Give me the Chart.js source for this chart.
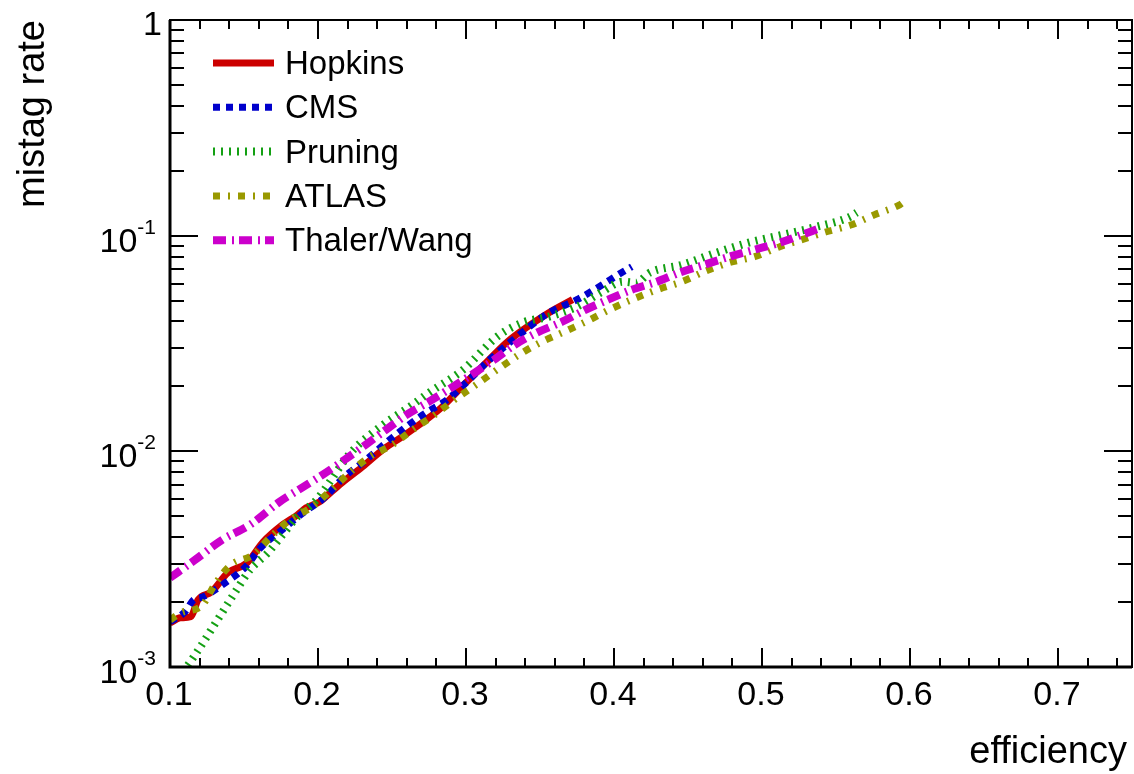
<!DOCTYPE html>
<html>
<head>
    <title>Mistag rate vs efficiency</title>
    <script src="https://cdn.jsdelivr.net/npm/chart.js"></script>
    <style>
        body { margin: 0; background: #fff; }
        #wrap { width: 1134px; height: 774px; }
    </style>
</head>
<body>
<div id="wrap"><canvas id="chart"></canvas></div>
<script>
    // values
    const hopkinsEff = [0.100, 0.107, 0.114, 0.119, 0.128, 0.139, 0.152, 0.163, 0.176, 0.186, 0.192, 0.201, 0.209, 0.217, 0.230, 0.244, 0.257, 0.273, 0.284, 0.299, 0.311, 0.328, 0.356, 0.372];
    const hopkinsMistag = [1.60e-3, 1.69e-3, 1.71e-3, 2.05e-3, 2.23e-3, 2.73e-3, 3.04e-3, 3.80e-3, 4.56e-3, 5.07e-3, 5.47e-3, 5.83e-3, 6.49e-3, 7.22e-3, 8.47e-3, 1.02e-2, 1.17e-2, 1.40e-2, 1.61e-2, 2.05e-2, 2.47e-2, 3.22e-2, 4.39e-2, 5.05e-2];

    const cmsEff = [0.100, 0.110, 0.116, 0.122, 0.137, 0.151, 0.161, 0.174, 0.190, 0.205, 0.217, 0.230, 0.251, 0.271, 0.287, 0.300, 0.316, 0.336, 0.356, 0.375, 0.390, 0.405, 0.412];
    const cmsMistag = [1.62e-3, 1.80e-3, 2.05e-3, 2.11e-3, 2.45e-3, 2.91e-3, 3.56e-3, 4.23e-3, 5.19e-3, 6.16e-3, 7.54e-3, 8.85e-3, 1.17e-2, 1.48e-2, 1.73e-2, 2.08e-2, 2.66e-2, 3.47e-2, 4.39e-2, 5.05e-2, 5.80e-2, 6.73e-2, 7.18e-2];

    const pruningEff = [0.109, 0.117, 0.132, 0.145, 0.154, 0.166, 0.176, 0.186, 0.199, 0.222, 0.244, 0.262, 0.275, 0.298, 0.321, 0.338, 0.356, 0.375, 0.392, 0.406, 0.415, 0.424, 0.446, 0.469, 0.491, 0.514, 0.537, 0.559, 0.564];
    const pruningMistag = [9.5e-4, 1.14e-3, 1.65e-3, 2.28e-3, 2.82e-3, 3.38e-3, 4.10e-3, 4.97e-3, 5.96e-3, 9.84e-3, 1.33e-2, 1.61e-2, 1.87e-2, 2.39e-2, 3.40e-2, 3.95e-2, 4.21e-2, 4.69e-2, 5.50e-2, 6.12e-2, 6.05e-2, 6.73e-2, 7.33e-2, 8.33e-2, 9.28e-2, 0.101, 0.110, 0.122, 0.128];

    const atlasEff = [0.100, 0.107, 0.122, 0.130, 0.141, 0.156, 0.168, 0.181, 0.196, 0.209, 0.222, 0.235, 0.250, 0.264, 0.279, 0.292, 0.307, 0.321, 0.336, 0.350, 0.365, 0.381, 0.397, 0.412, 0.429, 0.446, 0.461, 0.478, 0.495, 0.512, 0.527, 0.543, 0.560, 0.576, 0.593, 0.595];
    const atlasMistag = [1.65e-3, 1.78e-3, 1.94e-3, 2.40e-3, 2.97e-3, 3.31e-3, 4.01e-3, 4.81e-3, 5.53e-3, 6.62e-3, 8.03e-3, 9.44e-3, 1.07e-2, 1.26e-2, 1.48e-2, 1.73e-2, 2.04e-2, 2.39e-2, 2.81e-2, 3.19e-2, 3.55e-2, 3.99e-2, 4.54e-2, 5.05e-2, 5.61e-2, 6.12e-2, 6.81e-2, 7.50e-2, 7.99e-2, 8.89e-2, 9.58e-2, 0.104, 0.112, 0.125, 0.139, 0.142];

    const thalerEff = [0.100, 0.117, 0.135, 0.154, 0.174, 0.189, 0.203, 0.218, 0.232, 0.246, 0.260, 0.275, 0.290, 0.304, 0.319, 0.333, 0.348, 0.365, 0.381, 0.396, 0.412, 0.429, 0.444, 0.461, 0.478, 0.495, 0.512, 0.527, 0.537];
    const thalerMistag = [2.59e-3, 3.14e-3, 3.88e-3, 4.56e-3, 5.83e-3, 6.77e-3, 7.78e-3, 9.14e-3, 1.07e-2, 1.26e-2, 1.48e-2, 1.70e-2, 1.97e-2, 2.27e-2, 2.66e-2, 3.12e-2, 3.55e-2, 3.99e-2, 4.54e-2, 5.05e-2, 5.61e-2, 6.12e-2, 6.73e-2, 7.33e-2, 7.99e-2, 8.61e-2, 9.28e-2, 0.101, 0.107];

    const xTicks = [0.1, 0.2, 0.3, 0.4, 0.5, 0.6, 0.7];
    const xTickLabels = ['0.1', '0.2', '0.3', '0.4', '0.5', '0.6', '0.7'];
    const yTicks = [1, 0.1, 0.01, 0.001];
    const yTickBase = ['1', '10', '10', '10'];
    const yTickExp = ['', '-1', '-2', '-3'];

    const FONT = '"Liberation Sans", Arial, Helvetica, sans-serif';

    function pts(xs, ys) {
        return xs.map((x, i) => ({ x: x, y: ys[i] }));
    }

    // order: later series are drawn on top, like in the original
    function series(label, xs, ys, color, width, dash, order) {
        return {
            label: label,
            data: pts(xs, ys),
            borderColor: color,
            backgroundColor: color,
            borderWidth: width,
            borderDash: dash,
            borderCapStyle: 'butt',
            borderJoinStyle: 'round',
            pointRadius: 0,
            cubicInterpolationMode: 'monotone',
            fill: false,
            order: order
        };
    }

    // ROOT style frame, inward ticks, labels and legend
    const frame = {
        id: 'frame',
        afterDatasetsDraw(chart) {
            const ctx = chart.ctx;
            const a = chart.chartArea;
            const xs = chart.scales.x, ys = chart.scales.y;
            ctx.save();
            ctx.strokeStyle = '#000';
            ctx.fillStyle = '#000';

            // ticks
            ctx.lineWidth = 2;
            ctx.beginPath();
            for (let v = 0.1; v <= 0.7501; v += 0.02) {
                const px = Math.round(xs.getPixelForValue(v));
                const major = Math.abs(v * 10 - Math.round(v * 10)) < 1e-6;
                const len = major ? 19 : 9;
                ctx.moveTo(px, a.bottom); ctx.lineTo(px, a.bottom - len);
                ctx.moveTo(px, a.top); ctx.lineTo(px, a.top + len);
            }
            for (let e = -3; e < 0; e++) {
                for (let m = 1; m <= 9; m++) {
                    const py = Math.round(ys.getPixelForValue(m * Math.pow(10, e)));
                    const len = m === 1 ? 28 : 14;
                    ctx.moveTo(a.left, py); ctx.lineTo(a.left + len, py);
                    ctx.moveTo(a.right, py); ctx.lineTo(a.right - len, py);
                }
            }
            ctx.stroke();

            // frame
            ctx.lineWidth = 2;
            ctx.strokeRect(a.left, a.top, a.right - a.left, a.bottom - a.top);
            ctx.lineWidth = 3;
            ctx.beginPath();
            ctx.moveTo(a.left, a.top); ctx.lineTo(a.left, a.bottom); ctx.lineTo(a.right, a.bottom);
            ctx.stroke();

            // x tick labels
            ctx.font = '34px ' + FONT;
            ctx.textAlign = 'center';
            ctx.textBaseline = 'alphabetic';
            xTicks.forEach((v, i) => {
                ctx.fillText(xTickLabels[i], xs.getPixelForValue(v) - 1, a.bottom + 38);
            });

            // y tick labels
            yTicks.forEach((v, i) => {
                const py = ys.getPixelForValue(v);
                ctx.textAlign = 'right';
                if (yTickExp[i] === '') {
                    ctx.font = '34px ' + FONT;
                    ctx.fillText(yTickBase[i], 162, py + 15);
                } else {
                    ctx.font = '21px ' + FONT;
                    ctx.fillText(yTickExp[i], 156, py - 2);
                    const w = ctx.measureText(yTickExp[i]).width;
                    ctx.font = '34px ' + FONT;
                    ctx.fillText(yTickBase[i], 156 - w, py + 16);
                }
            });

            // axis titles
            ctx.font = '38px ' + FONT;
            ctx.textAlign = 'right';
            ctx.fillText('efficiency', 1127, 763);
            ctx.save();
            ctx.translate(44, 20);
            ctx.rotate(-Math.PI / 2);
            ctx.fillText('mistag rate', 0, 0);
            ctx.restore();

            // legend
            ctx.font = '33px ' + FONT;
            ctx.textAlign = 'left';
            chart.data.datasets.forEach((ds, i) => {
                const y = 63 + i * 44.3;
                ctx.save();
                ctx.strokeStyle = ds.borderColor;
                ctx.lineWidth = ds.borderWidth;
                ctx.setLineDash(ds.borderDash || []);
                ctx.lineCap = 'butt';
                ctx.beginPath();
                ctx.moveTo(213, y); ctx.lineTo(274, y);
                ctx.stroke();
                ctx.restore();
                ctx.fillText(ds.label, 285, y + 11);
            });
            ctx.restore();
        }
    };

    new Chart(document.getElementById('chart'), {
        type: 'line',
        data: {
            datasets: [
                series('Hopkins', hopkinsEff, hopkinsMistag, '#cc0000', 7, [], 5),
                series('CMS', cmsEff, cmsMistag, '#0000cc', 7, [7, 6], 4),
                series('Pruning', pruningEff, pruningMistag, '#13a013', 8, [2, 6], 3),
                series('ATLAS', atlasEff, atlasMistag, '#999900', 7, [7, 8, 2, 8], 2),
                series('Thaler/Wang', thalerEff, thalerMistag, '#cc00cc', 8, [13, 6, 2, 5], 1)
            ]
        },
        options: {
            responsive: true,
            maintainAspectRatio: false,
            animation: false,
            layout: { padding: { left: 170, top: 20, right: 2, bottom: 107 } },
            plugins: { legend: { display: false }, tooltip: { enabled: false } },
            scales: {
                x: { type: 'linear', min: 0.1, max: 0.75, display: false },
                y: { type: 'logarithmic', min: 0.001, max: 1, display: false }
            }
        },
        plugins: [frame]
    });
</script>
</body>
</html>
